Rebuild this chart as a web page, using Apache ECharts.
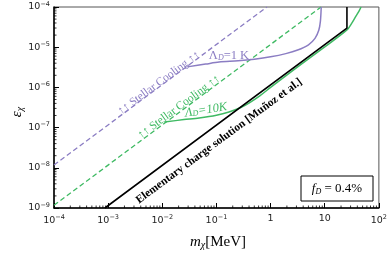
<!DOCTYPE html>
<html><head><meta charset="utf-8">
<script src="https://cdn.jsdelivr.net/npm/echarts@6/dist/echarts.min.js"></script>
<style>html,body{margin:0;padding:0;background:#fff}#c{width:390px;height:258px}</style>
</head><body><div id="c"></div>
<script>
// ---- data (m_chi [MeV], epsilon_chi) ----
const xTickExps = [-4, -3, -2, -1, 0, 1, 2];
const yTickExps = [-9, -8, -7, -6, -5, -4];

const stellarPurpleM = [1e-4, 0.855];
const stellarPurpleE = [1.17e-8, 1e-4];

const stellarGreenM = [1e-4, 8.55];
const stellarGreenE = [1.17e-9, 1e-4];

const elemChargeM = [8.7e-4, 25.7, 25.7];
const elemChargeE = [1e-9, 3.0e-5, 1e-4];

const lambda1M = [0.0288, 0.0631, 0.112, 0.251, 0.501, 1.0, 1.91, 3.16, 5.01, 6.61, 7.76, 8.32, 8.61];
const lambda1E = [3.24e-6, 3.80e-6, 4.27e-6, 4.57e-6, 5.01e-6, 5.75e-6, 6.92e-6, 8.51e-6, 1.15e-5, 1.66e-5, 2.63e-5, 4.47e-5, 1e-4];

const lambda10M = [0.0109, 0.0251, 0.0479, 0.1, 0.170, 0.282, 0.398, 0.631, 1.0, 3.16, 10, 25.7, 31.6, 37.2, 42.7, 46.8];
const lambda10E = [1.38e-7, 1.58e-7, 1.74e-7, 2.04e-7, 2.45e-7, 3.16e-7, 4.07e-7, 6.17e-7, 1.0e-6, 3.24e-6, 1.02e-5, 2.69e-5, 3.98e-5, 5.75e-5, 7.76e-5, 1e-4];

const PURPLE = '#8b7dc3';
const GREEN = '#3fba63';

function pairs(xs, ys) { return xs.map((x, i) => [x, ys[i]]); }
function expLabel(v) {
  const e = Math.round(Math.log10(v));
  if (e === 0) return '{b|1}';
  if (e === 1) return '{b|10}';
  return '{b|10}{sup|' + (e < 0 ? '\u2212' + (-e) : e) + '}';
}
const minorXs = [];
for (let k = xTickExps[0]; k < xTickExps[xTickExps.length - 1]; k++) for (let j = 2; j <= 9; j++) minorXs.push(j * Math.pow(10, k));
const minorYs = [];
for (let k = yTickExps[0]; k < yTickExps[yTickExps.length - 1]; k++) for (let j = 2; j <= 9; j++) minorYs.push(j * Math.pow(10, k));

const xMin = Math.pow(10, xTickExps[0]), xMax = Math.pow(10, xTickExps[xTickExps.length - 1]);
const yMin = Math.pow(10, yTickExps[0]), yMax = Math.pow(10, yTickExps[yTickExps.length - 1]);

const richLbl = {
  b: { fontSize: 9.5, fontFamily: 'DejaVu Sans', color: '#222' },
  sup: { fontSize: 6.5, fontFamily: 'DejaVu Sans', color: '#222', padding: [0, 0, 6, 0] }
};

const chart = echarts.init(document.getElementById('c'), null, { renderer: 'canvas' });
const SERIF = 'Liberation Serif';
const ang = Math.atan(40.2 / 54.5);

chart.setOption({
  animation: false,
  grid: { left: 54, right: 9, top: 7, bottom: 50, show: true, borderColor: '#555', borderWidth: 1 },
  xAxis: {
    type: 'log', logBase: 10, min: xMin, max: xMax, splitNumber: 6,
    axisLine: { show: true, lineStyle: { color: '#000', width: 1.5 } },
    axisTick: { show: true, inside: true, length: 5, lineStyle: { color: '#000', width: 1 } },
    splitLine: { show: false },
    axisLabel: { formatter: expLabel, rich: richLbl, margin: 6 }
  },
  yAxis: {
    type: 'log', logBase: 10, min: yMin, max: yMax, splitNumber: 5,
    axisLine: { show: true, lineStyle: { color: '#000', width: 1.5 } },
    axisTick: { show: true, inside: true, length: 5, lineStyle: { color: '#000', width: 1 } },
    splitLine: { show: false },
    axisLabel: { formatter: expLabel, rich: richLbl, margin: 4 }
  },
  series: [
    { type: 'line', data: pairs(stellarPurpleM, stellarPurpleE), showSymbol: false,
      lineStyle: { color: PURPLE, width: 1.3, type: [5, 3] } },
    { type: 'line', data: pairs(stellarGreenM, stellarGreenE), showSymbol: false,
      lineStyle: { color: GREEN, width: 1.3, type: [5, 3] } },
    { type: 'line', data: pairs(lambda1M, lambda1E), showSymbol: false, smooth: 0.3,
      lineStyle: { color: PURPLE, width: 1.5 } },
    { type: 'line', data: pairs(lambda10M, lambda10E), showSymbol: false, smooth: 0.3,
      lineStyle: { color: GREEN, width: 1.5 } },
    { type: 'line', data: pairs(elemChargeM, elemChargeE), showSymbol: false,
      lineStyle: { color: '#000', width: 1.6 } },
    { type: 'custom', data: [[xMin, yMin]], clip: false, silent: true,
      renderItem: function (params, api) {
        const ch = [];
        minorXs.forEach(x => {
          const p = api.coord([x, yMin]);
          ch.push({ type: 'line', shape: { x1: p[0], y1: p[1], x2: p[0], y2: p[1] - 2.5 }, style: { stroke: '#000', lineWidth: 0.8 } });
        });
        minorYs.forEach(y => {
          const p = api.coord([xMin, y]);
          ch.push({ type: 'line', shape: { x1: p[0], y1: p[1], x2: p[0] + 2.5, y2: p[1] }, style: { stroke: '#000', lineWidth: 0.8 } });
        });
        return { type: 'group', children: ch };
      } }
  ],
  graphic: [
    { type: 'text', x: 159, y: 83, rotation: ang,
      style: { text: '\u2191\u2191 Stellar Cooling \u2191\u2191', font: '11.5px "' + SERIF + '"', fill: PURPLE, align: 'center', verticalAlign: 'middle' } },
    { type: 'text', x: 179, y: 107, rotation: ang,
      style: { text: '\u2191\u2191 Stellar Cooling \u2191\u2191', font: '11.5px "' + SERIF + '"', fill: GREEN, align: 'center', verticalAlign: 'middle' } },
    { type: 'text', x: 229, y: 56,
      style: { text: '{a|\u039B}{s|D}{a|=1 K}', align: 'center', verticalAlign: 'middle',
        rich: { a: { fontSize: 12.5, fontFamily: SERIF, fill: PURPLE }, s: { fontSize: 8, fontFamily: SERIF, fontStyle: 'italic', fill: PURPLE, padding: [4, 0, 0, 0] } } } },
    { type: 'text', x: 206, y: 110, rotation: 0.15,
      style: { text: '{a|\u039B}{s|D}{a|=10K}', align: 'center', verticalAlign: 'middle',
        rich: { a: { fontSize: 12.5, fontFamily: SERIF, fontStyle: 'italic', fill: GREEN }, s: { fontSize: 8, fontFamily: SERIF, fontStyle: 'italic', fill: GREEN, padding: [4, 0, 0, 0] } } } },
    { type: 'text', x: 219, y: 141, rotation: ang,
      style: { text: 'Elementary charge solution [Mu\u00F1oz et al.]', font: 'bold 11.3px "' + SERIF + '"', fill: '#000', align: 'center', verticalAlign: 'middle' } },
    { type: 'rect', shape: { x: 301, y: 176, width: 72, height: 25 }, style: { fill: '#fff', stroke: '#000', lineWidth: 1 } },
    { type: 'text', x: 337, y: 189,
      style: { text: '{i|f}{s|D}{a| = 0.4%}', align: 'center', verticalAlign: 'middle',
        rich: { i: { fontSize: 13, fontFamily: SERIF, fontStyle: 'italic', fill: '#000' }, s: { fontSize: 8, fontFamily: SERIF, fontStyle: 'italic', fill: '#000', padding: [5, 0, 0, 0] }, a: { fontSize: 13, fontFamily: SERIF, fill: '#000' } } } },
    { type: 'text', x: 218, y: 242,
      style: { text: '{i|m}{s|\u03C7}{a|[MeV]}', align: 'center', verticalAlign: 'middle',
        rich: { i: { fontSize: 15, fontFamily: SERIF, fontStyle: 'italic', fill: '#000' }, s: { fontSize: 10, fontFamily: SERIF, fontStyle: 'italic', fill: '#000', padding: [6, 0, 0, 0] }, a: { fontSize: 15, fontFamily: SERIF, fill: '#000' } } } },
    { type: 'text', x: 17, y: 112, rotation: Math.PI / 2,
      style: { text: '{i|\u03B5}{s|\u03C7}', align: 'center', verticalAlign: 'middle',
        rich: { i: { fontSize: 15, fontFamily: SERIF, fontStyle: 'italic', fill: '#000' }, s: { fontSize: 10, fontFamily: SERIF, fontStyle: 'italic', fill: '#000', padding: [6, 0, 0, 0] } } } }
  ]
});
</script></body></html>
